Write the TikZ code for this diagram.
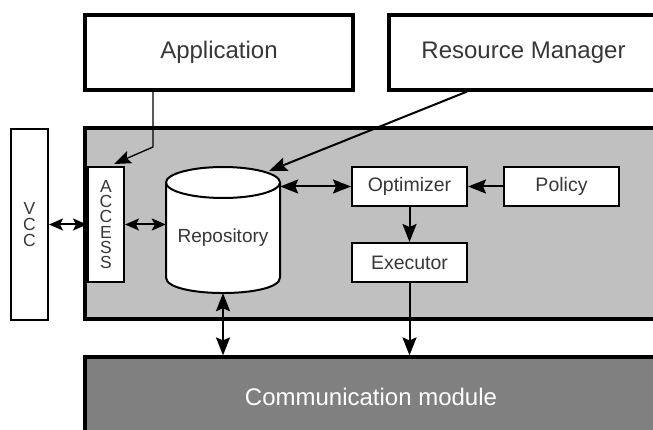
\documentclass[tikz,border=0pt]{standalone}
\usepackage{fontspec}
\setmainfont{Liberation Sans}
\usetikzlibrary{arrows.meta}
\definecolor{txt}{RGB}{55,55,55}
\definecolor{mainfill}{RGB}{192,192,192}
\definecolor{commfill}{RGB}{128,128,128}
\begin{document}
\begin{tikzpicture}[x=1pt,y=-1pt,
  bigbox/.style={draw, line width=3.2pt, text=txt, inner sep=0pt,
    font=\fontsize{24}{28}\selectfont},
  smallbox/.style={draw, fill=white, line width=2pt, text=txt, inner sep=0pt,
    minimum width=115pt, minimum height=39pt, font=\fontsize{19.5}{23}\selectfont},
  vbox/.style={draw, fill=white, line width=2pt, text=txt, inner sep=0pt, align=center},
  arr/.style={line width=2pt, arrows={-Stealth[length=18pt,width=14pt,inset=3pt]}},
  darr/.style={line width=2pt, arrows={Stealth[length=18pt,width=14pt,inset=3pt]-Stealth[length=18pt,width=14pt,inset=3pt]}},
  sdarr/.style={line width=2pt, arrows={Stealth[length=14pt,width=12pt,inset=3pt]-Stealth[length=14pt,width=12pt,inset=3pt]}},
  thinarr/.style={line width=1.3pt, arrows={-Stealth[length=17pt,width=13pt,inset=3pt]}}]
\useasboundingbox (0,0) rectangle (653,430);

% top boxes
\node[bigbox, minimum width=268pt, minimum height=75pt] (app) at (219,52.5) {Application};
\node[bigbox, minimum width=269pt, minimum height=75pt] (rm) at (523.5,52.5) {Resource Manager};

% main gray box
\node[bigbox, fill=mainfill, minimum width=575pt, minimum height=191pt] (main) at (372.5,223.5) {};

% communication module
\node[bigbox, fill=commfill, text=white, minimum width=572pt, minimum height=80pt] (comm) at (371,397) {Communication module};

% VCC and ACCESS
\node[vbox, minimum width=37pt, minimum height=191pt, font=\fontsize{17.5}{16}\selectfont] (vcc) at (29.5,224.5) {V\\C\\C};
\node[vbox, minimum width=36pt, minimum height=115pt, font=\fontsize{17.5}{15.2}\selectfont] (acc) at (106,224.5) {A\\C\\C\\E\\S\\S};

% repository cylinder
\path[draw, fill=white, line width=2pt]
  (166,182.5) -- (166,277.5) .. controls (166,298.2) and (280,298.2) .. (280,277.5) -- (280,182.5);
\draw[fill=white, line width=2pt] (223,182.5) ellipse [x radius=57, y radius=15.5];
\node[inner sep=0pt, minimum width=114pt, minimum height=110.5pt, text=txt,
  font=\fontsize{19}{23}\selectfont] (repo) at (223,237.75) {Repository};

% inner boxes
\node[smallbox] (opt) at (409.5,186.5) {Optimizer};
\node[smallbox] (exe) at (409.5,262.5) {Executor};
\node[smallbox] (pol) at (561.5,186.5) {Policy};

% free ends
\coordinate (appx) at (153,0);
\coordinate (appbend) at (153,147);
\coordinate (acctip) at (114,164);
\coordinate (rmx) at (467,0);
\coordinate (repotop) at (269,171);

% connectors
\draw[thinarr] (app.south -| appx) -- (appbend) -- (acctip);
\draw[arr] (rm.south -| rmx) -- (repotop);
\draw[sdarr] (vcc.east) -- (acc.west);
\draw[sdarr] (acc.east) -- (acc.east -| repo.west);
\draw[darr] (opt.west -| repo.east) -- (opt.west);
\draw[arr] (pol.west) -- (opt.east);
\draw[arr] (opt.south) -- (exe.north);
\draw[arr] (exe.south) -- (exe.south |- comm.north);
\draw[darr] (repo.south) -- (repo.south |- comm.north);
\end{tikzpicture}
\end{document}
